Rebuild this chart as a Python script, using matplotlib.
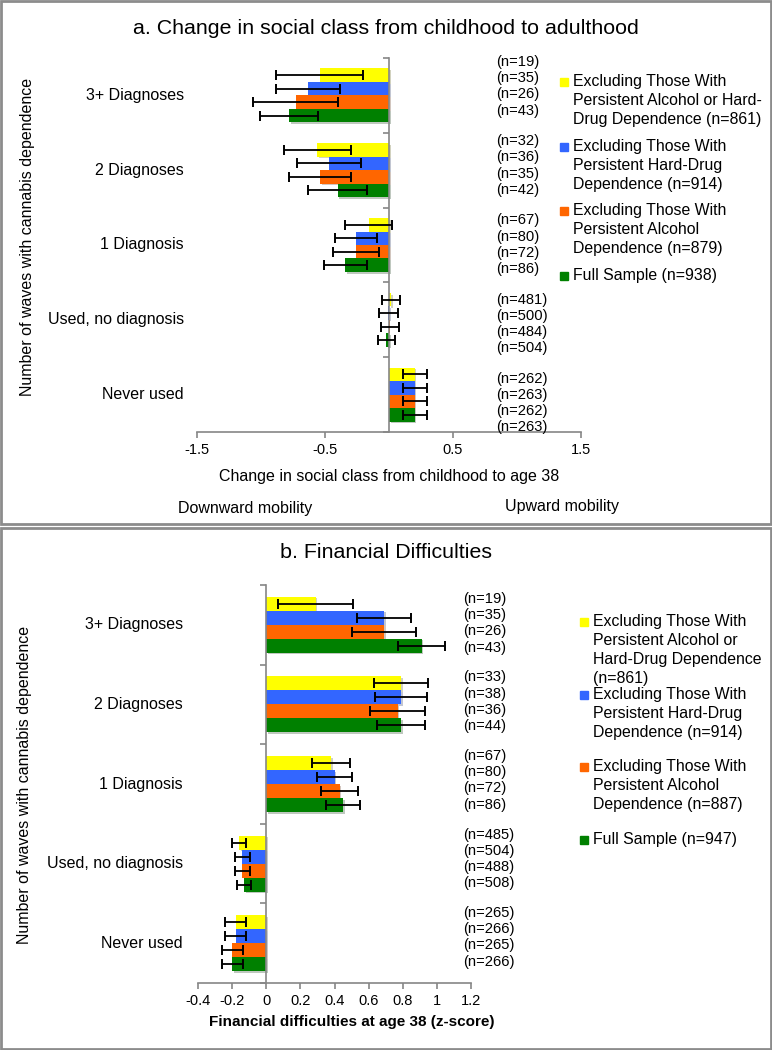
import matplotlib.pyplot as plt
import matplotlib.transforms as mtransforms
import matplotlib.patheffects as pe
from matplotlib.patches import Rectangle
import numpy as np

plt.rcParams['font.family'] = ['Liberation Sans', 'DejaVu Sans']
plt.rcParams['axes.unicode_minus'] = False

W, H = 772, 1050

categories = ['3+ Diagnoses', '2 Diagnoses', '1 Diagnosis', 'Used, no diagnosis', 'Never used']
colors = ['#FFFF00', '#3366FF', '#FF6600', '#008000']

# panel a - change in social class, columns: excl. alcohol/hard-drug, excl. hard-drug, excl. alcohol, full sample
a_vals = [[-0.54, -0.63, -0.73, -0.78],
          [-0.56, -0.47, -0.54, -0.40],
          [-0.16, -0.26, -0.26, -0.34],
          [0.015, -0.005, 0.005, -0.02],
          [0.20, 0.20, 0.20, 0.20]]
a_err = [[0.34, 0.25, 0.335, 0.225],
         [0.26, 0.25, 0.245, 0.23],
         [0.18, 0.165, 0.18, 0.165],
         [0.068, 0.072, 0.07, 0.068],
         [0.094, 0.094, 0.094, 0.094]]
a_n = [[19, 35, 26, 43],
       [32, 36, 35, 42],
       [67, 80, 72, 86],
       [481, 500, 484, 504],
       [262, 263, 262, 263]]
a_legend = ['Excluding Those With\nPersistent Alcohol or Hard-\nDrug Dependence (n=861)',
            'Excluding Those With\nPersistent Hard-Drug\nDependence (n=914)',
            'Excluding Those With\nPersistent Alcohol\nDependence (n=879)',
            'Full Sample (n=938)']

# panel b - financial difficulties (z-score)
b_vals = [[0.29, 0.69, 0.69, 0.91],
          [0.79, 0.79, 0.77, 0.79],
          [0.38, 0.40, 0.43, 0.45],
          [-0.16, -0.14, -0.14, -0.13],
          [-0.18, -0.18, -0.20, -0.20]]
b_err = [[0.22, 0.16, 0.19, 0.14],
         [0.16, 0.15, 0.16, 0.14],
         [0.11, 0.10, 0.11, 0.10],
         [0.043, 0.043, 0.043, 0.043],
         [0.062, 0.062, 0.062, 0.062]]
b_n = [[19, 35, 26, 43],
       [33, 38, 36, 44],
       [67, 80, 72, 86],
       [485, 504, 488, 508],
       [265, 266, 265, 266]]
b_legend = ['Excluding Those With\nPersistent Alcohol or\nHard-Drug Dependence\n(n=861)',
            'Excluding Those With\nPersistent Hard-Drug\nDependence (n=914)',
            'Excluding Those With\nPersistent Alcohol\nDependence (n=887)',
            'Full Sample (n=947)']

fig = plt.figure(figsize=(W / 100, H / 100), dpi=100)


def fx(x):
    return x / W


def fy(y):
    return 1 - y / H


def panel(rect, vals, errs, ns, xlim, xticks, bar_h, cat_right, nx, n_top, n_step, leg_x, leg_top, leg_step, legend):
    x0, y0, x1, y1 = rect
    ax = fig.add_axes([fx(x0), fy(y1), fx(x1 - x0), (y1 - y0) / H])
    vals = np.array(vals)
    errs = np.array(errs)
    y = np.arange(len(categories))
    for s in range(4):
        ax.barh(y + (s - 1.5) * bar_h, vals[:, s], height=bar_h, color=colors[s],
                path_effects=[pe.SimplePatchShadow(offset=(1.2, -1.2), alpha=0.25), pe.Normal()],
                zorder=2)
        ax.errorbar(vals[:, s], y + (s - 1.5) * bar_h, xerr=errs[:, s], fmt='none',
                    ecolor='black', elinewidth=1.3, capsize=3.5, capthick=1.4, zorder=3)
    ax.set_xlim(*xlim)
    ax.set_ylim(len(categories) - 0.5, -0.5)
    ax.set_xticks(xticks)
    ax.set_xticklabels(['{:g}'.format(t) for t in xticks], fontsize=10.5)
    ax.set_yticks(np.arange(len(categories) + 1) - 0.5)
    ax.set_yticklabels([])
    for sp in ['top', 'right']:
        ax.spines[sp].set_visible(False)
    ax.spines['left'].set_position(('data', 0))
    for sp in ['left', 'bottom']:
        ax.spines[sp].set_color('#868686')
        ax.spines[sp].set_linewidth(1.2)
    ax.tick_params(axis='both', direction='out', length=4, color='#868686', width=1.2)
    ax.tick_params(axis='x', pad=4)
    trans = mtransforms.blended_transform_factory(ax.transAxes, ax.transData)
    for i, c in enumerate(categories):
        ax.text((cat_right - x0) / (x1 - x0), i, c, transform=trans, ha='right', va='center', fontsize=11.5)
    # n labels
    for g in range(len(categories)):
        for s in range(4):
            yy = n_top + g * n_step + s * 16.2
            fig.text(fx(nx), fy(yy), '(n={})'.format(ns[g][s]), ha='left', va='center', fontsize=10.6)
    # legend
    for s in range(4):
        yy = leg_top + s * leg_step
        fig.patches.append(Rectangle((fx(leg_x), fy(yy + 4)), fx(8), 8 / H, color=colors[s],
                                     transform=fig.transFigure, figure=fig))
        fig.text(fx(leg_x + 13), fy(yy - 8), legend[s], ha='left', va='top', fontsize=11.4, linespacing=1.33)
    return ax


ax1 = panel((197, 58, 581, 432), a_vals, a_err, a_n, (-1.5, 1.5), [-1.5, -0.5, 0.5, 1.5], 0.18,
            184, 496, 62, 79.2, 560, 82, 64.7, a_legend)
ax2 = panel((198, 585, 471, 983), b_vals, b_err, b_n, (-0.4, 1.2), list(np.round(np.arange(-0.4, 1.21, 0.2), 1)), 0.176,
            183, 463, 599, 78.5, 580, 622, 72.7, b_legend)

fig.text(fx(386), fy(28), 'a. Change in social class from childhood to adulthood', ha='center', va='center', fontsize=15.4)
fig.text(fx(389), fy(476), 'Change in social class from childhood to age 38', ha='center', va='center', fontsize=11.5)
fig.text(fx(245), fy(508), 'Downward mobility', ha='center', va='center', fontsize=11.5)
fig.text(fx(562), fy(507), 'Upward mobility', ha='center', va='center', fontsize=11.5)
fig.text(fx(28), fy(237), 'Number of waves with cannabis dependence', rotation=90, ha='center', va='center', fontsize=11.5)

fig.text(fx(386), fy(553), 'b. Financial Difficulties', ha='center', va='center', fontsize=15.4)
fig.text(fx(352), fy(1022), 'Financial difficulties at age 38 (z-score)', ha='center', va='center',
         fontsize=11, fontweight='bold')
fig.text(fx(25), fy(785), 'Number of waves with cannabis dependence', rotation=90, ha='center', va='center', fontsize=11.5)

# panel frames
for top, bot in [(1, 524), (528, 1049)]:
    fig.patches.append(Rectangle((fx(1), fy(bot)), fx(770), (bot - top) / H, fill=False,
                                 edgecolor='#8c8c8c', linewidth=2, transform=fig.transFigure, figure=fig))

fig.savefig('out.png', dpi=100)
